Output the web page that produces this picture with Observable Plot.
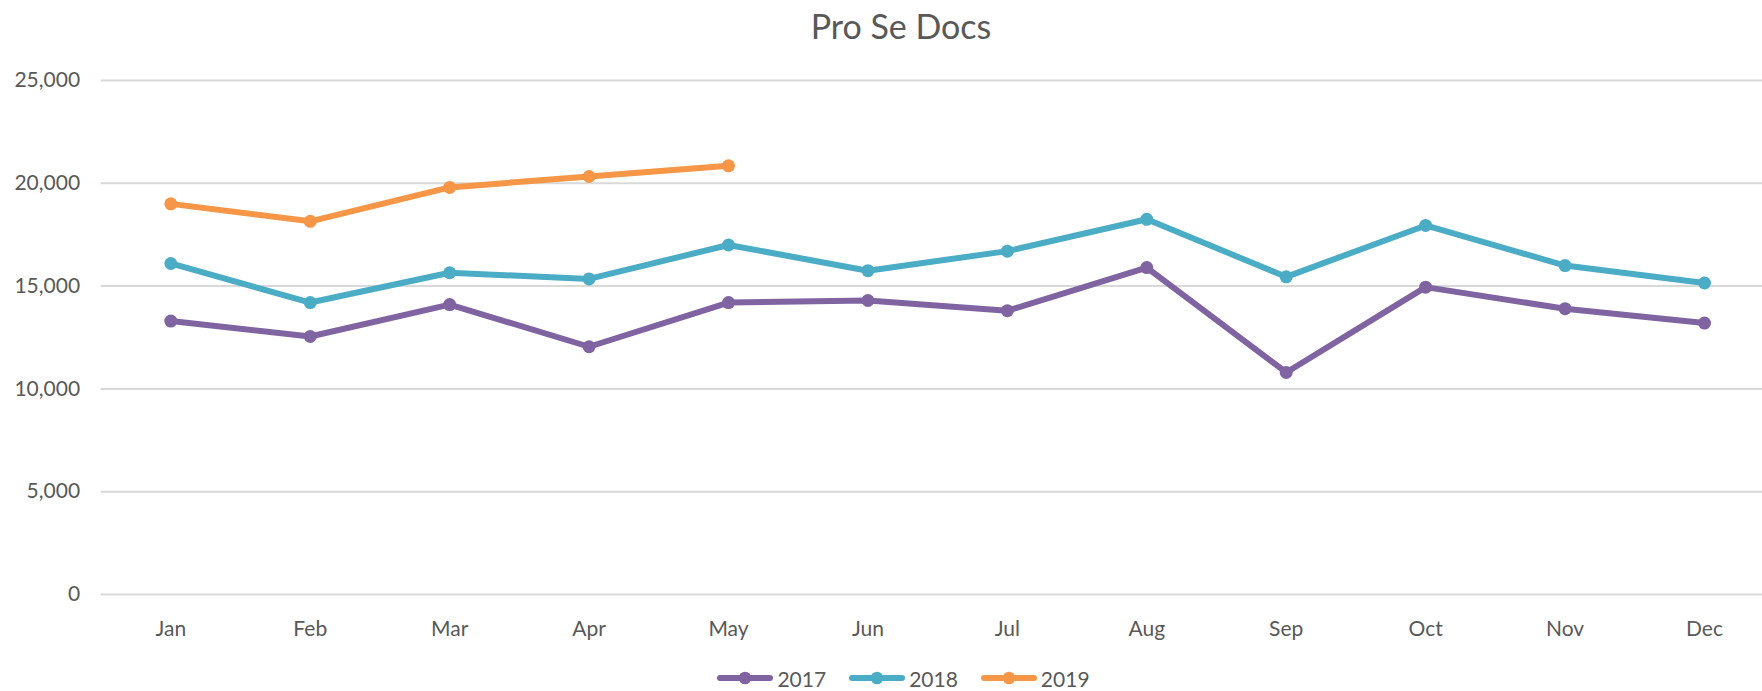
<!DOCTYPE html>
<html>
<head>
<meta charset="utf-8">
<script src="https://cdn.jsdelivr.net/npm/d3@7"></script>
<script src="https://cdn.jsdelivr.net/npm/@observablehq/plot@0.6"></script>
<style>
  html, body { margin: 0; padding: 0; background: #fff; overflow: hidden; }
  body { width: 1762px; height: 691px; font-family: Lato, "Open Sans", sans-serif; color: #595959; }
  #title { height: 52px; line-height: 52px; font-size: 34px; text-align: center; padding-left: 40px; box-sizing: border-box; width: 1762px; }
  #chart { width: 1762px; height: 600px; overflow: hidden; }
  #legend { height: 52px; display: flex; align-items: center; justify-content: center; padding-left: 45px; box-sizing: border-box; width: 1762px; font-size: 21px; }
  .item { display: flex; align-items: center; margin: 0 11.5px; }
  .item svg { margin-right: 4px; }
</style>
</head>
<body>
<div id="title">Pro Se Docs</div>
<div id="chart"></div>
<div id="legend"></div>
<script>
const months = ["Jan","Feb","Mar","Apr","May","Jun","Jul","Aug","Sep","Oct","Nov","Dec"];
const years = ["2017","2018","2019"];
const colors = ["#8064A2","#4BACC6","#F79646"];
const v2017 = [13300,12550,14100,12050,14200,14300,13800,15900,10800,14950,13900,13200];
const v2018 = [16100,14200,15650,15350,17000,15750,16700,18250,15450,17950,16000,15150];
const v2019 = [19000,18150,19800,20330,20850];
const yTicks = [0,5000,10000,15000,20000,25000];

const series = [v2017, v2018, v2019];
const rows = [];
series.forEach((vals, i) => vals.forEach((v, j) => rows.push({month: months[j], year: years[i], value: v})));

const chart = Plot.plot({
  width: 1762,
  height: 600,
  marginTop: 28,
  marginBottom: 58,
  marginLeft: 100.6,
  marginRight: -11.7,
  style: {fontFamily: "Lato, 'Open Sans', sans-serif", fontSize: "21px", color: "#595959", background: "#fff"},
  x: {type: "point", domain: months, padding: 0.5, round: false, label: null},
  y: {domain: [0, 25000], label: null},
  color: {domain: years, range: colors},
  marks: [
    Plot.ruleY(yTicks, {stroke: "#D9D9D9", strokeWidth: 2}),
    Plot.axisY({ticks: yTicks, tickSize: 0, tickPadding: 21, tickFormat: d3.format(","), label: null, fill: "#595959"}),
    Plot.axisX({tickSize: 0, tickPadding: 27, label: null, fill: "#595959"}),
    Plot.line(rows, {x: "month", y: "value", z: "year", stroke: "year", strokeWidth: 6, strokeLinejoin: "round", strokeLinecap: "round"}),
    Plot.dot(rows, {x: "month", y: "value", fill: "year", r: 6.5})
  ]
});
document.getElementById("chart").appendChild(chart);

const legend = document.getElementById("legend");
years.forEach((y, i) => {
  const item = document.createElement("div");
  item.className = "item";
  item.innerHTML = `<svg width="56" height="14"><line x1="3" y1="7" x2="53" y2="7" stroke="${colors[i]}" stroke-width="6" stroke-linecap="round"/><circle cx="28" cy="7" r="6.3" fill="${colors[i]}"/></svg><span>${y}</span>`;
  legend.appendChild(item);
});
</script>
</body>
</html>
